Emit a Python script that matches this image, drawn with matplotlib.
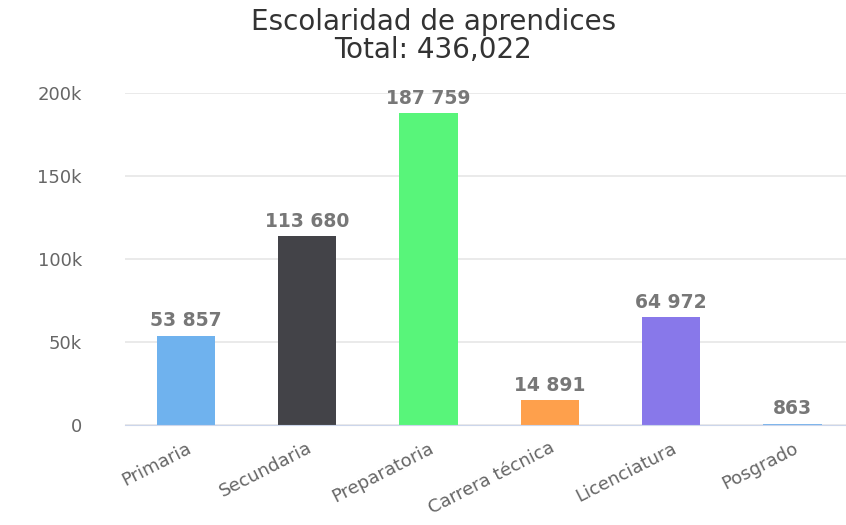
import numpy as np
import matplotlib.pyplot as plt

categories = ["Primaria", "Secundaria", "Preparatoria", "Carrera técnica", "Licenciatura", "Posgrado"]
values = [53857, 113680, 187759, 14891, 64972, 863]
colors = ["#6fb2ee", "#434348", "#58f57a", "#fea04c", "#8878ea", "#7cb5ec"]
yticks = [0, 50000, 100000, 150000, 200000]
ytick_labels = ["0", "50k", "100k", "150k", "200k"]

plt.rcParams['font.family'] = "DejaVu Sans"

W, H = 846, 525
fig = plt.figure(figsize=[W / 100, H / 100], dpi=100)

# plot area in pixels: left 125, right 846, top 93 (200k), bottom 425 (0)
ax = fig.add_axes([125 / W, 1 - 425 / H, (846 - 125) / W, (425 - 93) / H])

x = np.arange(len(categories))
ax.bar(x, values, width=0.48, color=colors, zorder=3)

for xi, v in zip(x, values):
    ax.annotate(f"{v:,}".replace(",", " "), (xi, v), xytext=(0, 4), textcoords="offset points",
                ha="center", va="bottom", fontsize=13.5, fontweight="bold", color="#777777", zorder=4)

ax.set_xlim(-0.5, 5.44)
ax.set_ylim(0, 200000)
ax.set_yticks(yticks)
ax.set_yticklabels(ytick_labels, fontsize=13, color="#666666")
ax.yaxis.grid(True, color="#e6e6e6", linewidth=1.2, zorder=0)
ax.tick_params(axis="y", length=0, pad=31)
ax.tick_params(axis="x", length=0, pad=10)

ax.set_xticks(x)
ax.set_xticklabels(categories, rotation=27, ha="right", va="top", rotation_mode="anchor",
                   fontsize=13, color="#666666")

for side in ["top", "right", "left"]:
    ax.spines[side].set_visible(False)
ax.spines["bottom"].set_color("#ccd6eb")
ax.spines["bottom"].set_zorder(5)

fig.text(0.512, 1 - 22 / H, "Escolaridad de aprendices", ha="center", va="center",
         fontsize=20, color="#333333")
fig.text(0.512, 1 - 50 / H, "Total: 436,022", ha="center", va="center",
         fontsize=20, color="#333333")

fig.savefig("out.png", dpi=100)
